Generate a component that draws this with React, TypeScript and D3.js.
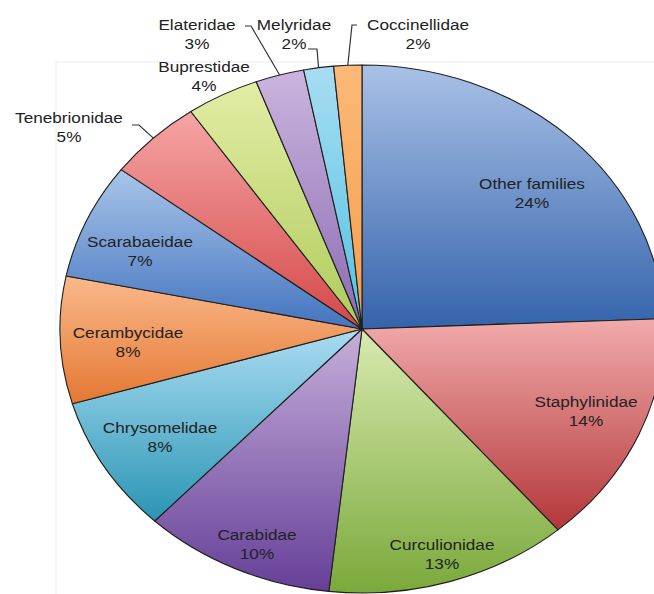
import React from "react";
import * as d3 from "d3";

const families = [
  "Other families", "Staphylinidae", "Curculionidae", "Carabidae", "Chrysomelidae",
  "Cerambycidae", "Scarabaeidae", "Tenebrionidae", "Buprestidae", "Elateridae",
  "Melyridae", "Coccinellidae",
];
const shares = [24.4, 14.4, 13.0, 10.3, 8.4, 7.8, 7.1, 5.1, 3.9, 2.6, 1.6, 1.5];
const pctLabels = ["24%", "14%", "13%", "10%", "8%", "8%", "7%", "5%", "4%", "3%", "2%", "2%"];
const topColors = ["#a9c1e6", "#f2abab", "#d8eab0", "#c6afda", "#abdcf2", "#fab98b", "#a9c5e9", "#f6a5a5", "#e3eda6", "#cbb5de", "#a8ddf2", "#fbb978"];
const bottomColors = ["#3463ab", "#b3373a", "#7aa93a", "#653f98", "#2995b3", "#e47833", "#4374bf", "#d44848", "#aecb5a", "#8a6ab2", "#52c1e2", "#f69e4a"];

// layout (final pixel coords): label centre x, name baseline y; outside labels with leader
const labelLayout = [
  { x: 532, y: 189, out: false },
  { x: 586, y: 407, out: false },
  { x: 442, y: 550, out: false },
  { x: 257, y: 540, out: false },
  { x: 160, y: 433, out: false },
  { x: 128, y: 338, out: false },
  { x: 140, y: 247, out: false },
  { x: 69, y: 123, out: true, lx: [132, 139], ly: 125 },
  { x: 204, y: 72, out: false },
  { x: 197, y: 30, out: true, lx: [245, 251], ly: 26 },
  { x: 294, y: 30, out: true, lx: [308, 317], ly: 49 },
  { x: 418, y: 30, out: true, lx: [357, 352], ly: 25 },
];

const W = 654, H = 594;
const cx = 362, cy = 329, R = 264, SX = 1.144;

export default function App() {
  const pie = d3.pie<number>().sort(null).value((d) => d)(shares);
  const arc = d3.arc<d3.PieArcDatum<number>>().innerRadius(0).outerRadius(R);
  const font = "'Liberation Sans', Arial, Helvetica, sans-serif";

  return (
    <svg width={W} height={H} style={{ position: "absolute", left: 0, top: 0, background: "#fff" }}>
      <defs>
        {families.map((f, i) => (
          <linearGradient key={f} id={`g${i}`} x1="0" y1="0" x2="0" y2="1">
            <stop offset="0" stopColor={topColors[i]} />
            <stop offset="1" stopColor={bottomColors[i]} />
          </linearGradient>
        ))}
      </defs>
      <rect x={56} y={62} width={700} height={600} fill="none" stroke="#eeeeee" strokeWidth={1} />
      <g transform={`translate(${cx},${cy}) scale(${SX},1)`}>
        {pie.map((p, i) => (
          <path key={i} d={arc(p) || ""} fill={`url(#g${i})`} stroke="#1e1e1e" strokeWidth={1.1}
            vectorEffect="non-scaling-stroke" strokeLinejoin="round" />
        ))}
      </g>
      {pie.map((p, i) => {
        const L = labelLayout[i];
        const els: React.ReactNode[] = [];
        if (L.out) {
          const mid = (p.startAngle + p.endAngle) / 2;
          const rx = cx + SX * R * Math.sin(mid);
          const ry = cy - R * Math.cos(mid);
          const pts = [[L.lx![0], L.ly!], [L.lx![1], L.ly!], [rx, ry]];
          els.push(
            <polyline key="l" points={pts.map((q) => q.join(",")).join(" ")} fill="none" stroke="#333" strokeWidth={1.2} />
          );
        }
        els.push(
          <text key="n" transform={`translate(${L.x},${L.y}) scale(${SX},1)`} textAnchor="middle"
            fontFamily={font} fontSize={15} fill="#222">{families[i]}</text>,
          <text key="p" transform={`translate(${L.x},${L.y + 19}) scale(${SX},1)`} textAnchor="middle"
            fontFamily={font} fontSize={15} fill="#222">{pctLabels[i]}</text>
        );
        return <g key={i}>{els}</g>;
      })}
    </svg>
  );
}
